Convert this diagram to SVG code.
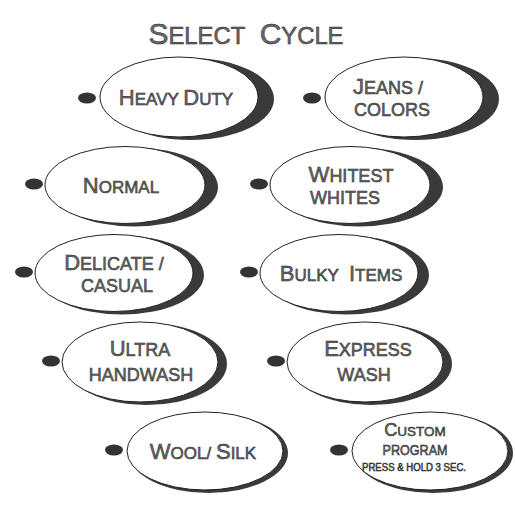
<svg xmlns="http://www.w3.org/2000/svg" width="515" height="513" viewBox="0 0 515 513">
<style>
.sh{fill:#3a3a3a}
.el{fill:#fff;stroke:#222;stroke-width:1}
.dot{fill:#333}
.t{font-family:"Liberation Sans",Arial,sans-serif;fill:#6a6a6a;stroke:#1e1e1e;stroke-width:0.5;text-anchor:middle}
.B{font-size:22px}.S{font-size:17px}
.b2{font-size:22px}.s2{font-size:18px}
</style>
<rect width="515" height="513" fill="#fff"/>
<g id="title">
<text class="t" x="246" y="44" textLength="195" lengthAdjust="spacingAndGlyphs"><tspan font-size="29">S</tspan><tspan font-size="23">ELECT</tspan><tspan font-size="29" dx="14">C</tspan><tspan font-size="23">YCLE</tspan></text>
</g>
<g id="heavy-duty">
<ellipse class="sh" cx="190.2" cy="99" rx="83.8" ry="41"/>
<ellipse class="el" cx="179" cy="97" rx="79" ry="40"/>
<ellipse class="dot" cx="87" cy="98" rx="9" ry="5.5"/>
<text class="t" x="176" y="105"><tspan class="B">H</tspan><tspan class="S">EAVY </tspan><tspan class="B">D</tspan><tspan class="S">UTY</tspan></text>
</g>
<g id="jeans-colors">
<ellipse class="sh" cx="415.2" cy="99" rx="83.8" ry="41"/>
<ellipse class="el" cx="404" cy="97" rx="79" ry="40"/>
<ellipse class="dot" cx="312" cy="98" rx="9" ry="5.5"/>
<text class="t" x="388" y="94"><tspan class="b2">J</tspan><tspan class="s2">EANS /</tspan></text>
<text class="t s2" x="392" y="116">COLORS</text>
</g>
<g id="normal">
<ellipse class="sh" cx="134.1" cy="187" rx="83.9" ry="39.5"/>
<ellipse class="el" cx="125" cy="185" rx="80" ry="38.5"/>
<ellipse class="dot" cx="34" cy="184" rx="9" ry="5.5"/>
<text class="t" x="121" y="193"><tspan class="B">N</tspan><tspan class="S">ORMAL</tspan></text>
</g>
<g id="whitest-whites">
<ellipse class="sh" cx="359.1" cy="187" rx="83.9" ry="39.5"/>
<ellipse class="el" cx="350" cy="185" rx="80" ry="38.5"/>
<ellipse class="dot" cx="259" cy="184" rx="9" ry="5.5"/>
<text class="t" x="351" y="182"><tspan class="b2">W</tspan><tspan class="s2">HITEST</tspan></text>
<text class="t s2" x="345" y="204">WHITES</text>
</g>
<g id="delicate-casual">
<ellipse class="sh" cx="121.7" cy="275" rx="82.3" ry="39.5"/>
<ellipse class="el" cx="114" cy="273" rx="79" ry="38.5"/>
<ellipse class="dot" cx="24" cy="272" rx="9" ry="5.5"/>
<text class="t" x="114" y="270"><tspan class="b2">D</tspan><tspan class="s2">ELICATE /</tspan></text>
<text class="t s2" x="117" y="292">CASUAL</text>
</g>
<g id="bulky-items">
<ellipse class="sh" cx="346.7" cy="275" rx="82.3" ry="39.5"/>
<ellipse class="el" cx="339" cy="273" rx="79" ry="38.5"/>
<ellipse class="dot" cx="249" cy="272" rx="9" ry="5.5"/>
<text class="t" x="341" y="281"><tspan class="B">B</tspan><tspan class="S">ULKY</tspan><tspan class="B" dx="10">I</tspan><tspan class="S">TEMS</tspan></text>
</g>
<g id="ultra-handwash">
<ellipse class="sh" cx="146.3" cy="364" rx="80.7" ry="41"/>
<ellipse class="el" cx="140" cy="362" rx="78" ry="40"/>
<ellipse class="dot" cx="51" cy="361" rx="9" ry="5.5"/>
<text class="t" x="140" y="356"><tspan class="b2">U</tspan><tspan class="s2">LTRA</tspan></text>
<text class="t s2" x="141" y="381">HANDWASH</text>
</g>
<g id="express-wash">
<ellipse class="sh" cx="371.3" cy="364" rx="80.7" ry="41"/>
<ellipse class="el" cx="365" cy="362" rx="78" ry="40"/>
<ellipse class="dot" cx="276" cy="361" rx="9" ry="5.5"/>
<text class="t" x="368" y="356"><tspan class="b2">E</tspan><tspan class="s2">XPRESS</tspan></text>
<text class="t s2" x="364" y="381">WASH</text>
</g>
<g id="wool-silk">
<ellipse class="sh" cx="208.5" cy="453" rx="79.5" ry="40"/>
<ellipse class="el" cx="205" cy="451" rx="78" ry="39"/>
<ellipse class="dot" cx="114" cy="450" rx="9" ry="5.5"/>
<text class="t" x="203" y="459"><tspan class="B">W</tspan><tspan class="S">OOL/ </tspan><tspan class="B">S</tspan><tspan class="S">ILK</tspan></text>
</g>
<g id="custom-program">
<ellipse class="sh" cx="433.5" cy="453" rx="79.5" ry="40"/>
<ellipse class="el" cx="430" cy="451" rx="78" ry="39"/>
<ellipse class="dot" cx="339" cy="450" rx="9" ry="5.5"/>
<text class="t" x="415" y="436"><tspan font-size="18">C</tspan><tspan font-size="13.5">USTOM</tspan></text>
<text class="t" x="415" y="455" font-size="14" textLength="65" lengthAdjust="spacingAndGlyphs">PROGRAM</text>
<text class="t" x="414" y="471" font-size="10" stroke-width="0.3" textLength="104" lengthAdjust="spacingAndGlyphs">PRESS &amp; HOLD 3 SEC.</text>
</g>
</svg>
